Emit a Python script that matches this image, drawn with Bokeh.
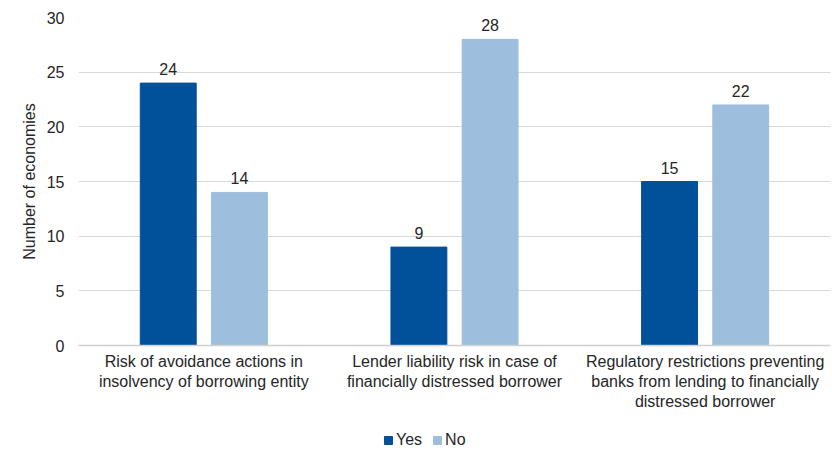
from bokeh.plotting import figure
from bokeh.layouts import column
from bokeh.core.properties import value
from bokeh.models import ColumnDataSource, Range1d, FixedTicker, Legend, LegendItem, LabelSet
from bokeh.embed import file_html
from bokeh.resources import INLINE

categories = [
    "Risk of avoidance actions in\ninsolvency of borrowing entity",
    "Lender liability risk in case of\nfinancially distressed borrower",
    "Regulatory restrictions preventing\nbanks from lending to financially\ndistressed borrower",
]
yes_values = [24, 9, 15]
no_values = [14, 28, 22]
y_ticks = [0, 5, 10, 15, 20, 25, 30]
series_names = ["Yes", "No"]

FONT = "Liberation Sans"
TEXT_COLOR = "#262626"
YES_COLOR = "#00519A"
NO_COLOR = "#9DBFDD"

centers = [i + 0.5 for i in range(len(categories))]
bar_w = 0.223
yes_x = [c - 0.142 for c in centers]
no_x = [c + 0.142 for c in centers]

yes_src = ColumnDataSource(dict(x=yes_x, top=yes_values, lbl=[str(v) for v in yes_values]))
no_src = ColumnDataSource(dict(x=no_x, top=no_values, lbl=[str(v) for v in no_values]))

p = figure(width=832, height=420, output_backend="svg", toolbar_location=None,
           x_range=Range1d(0, 3), y_range=Range1d(0, 30))
p.min_border_left = 78
p.min_border_right = 2
p.min_border_top = 17
p.min_border_bottom = 75
p.outline_line_color = None
p.background_fill_color = "white"

p.vbar(x="x", top="top", width=bar_w, source=yes_src, color=YES_COLOR)
p.vbar(x="x", top="top", width=bar_w, source=no_src, color=NO_COLOR)

for src in (yes_src, no_src):
    p.add_layout(LabelSet(x="x", y="top", text="lbl", source=src, y_offset=8,
                          text_align="center", text_baseline="bottom",
                          text_font=value(FONT), text_font_size="16px",
                          text_color=TEXT_COLOR))

# grid
p.xgrid.grid_line_color = None
p.ygrid.grid_line_color = "#D9D9D9"
p.ygrid.grid_line_width = 1.2
p.ygrid.ticker = FixedTicker(ticks=y_ticks)

# y axis
p.yaxis.ticker = FixedTicker(ticks=y_ticks)
p.yaxis.axis_line_color = None
p.yaxis.major_tick_line_color = None
p.yaxis.minor_tick_line_color = None
p.yaxis.major_label_text_font = FONT
p.yaxis.major_label_text_font_size = "16px"
p.yaxis.major_label_text_color = TEXT_COLOR
p.yaxis.major_label_standoff = 8
p.yaxis.axis_label = "Number of economies"
p.yaxis.axis_label_text_font = FONT
p.yaxis.axis_label_text_font_size = "16px"
p.yaxis.axis_label_text_font_style = "normal"
p.yaxis.axis_label_text_color = TEXT_COLOR
p.yaxis.axis_label_standoff = 6

# x axis
p.xaxis.ticker = FixedTicker(ticks=centers)
p.xaxis.major_label_overrides = {c: lab for c, lab in zip(centers, categories)}
p.xaxis.axis_line_color = "#D0D0D0"
p.xaxis.axis_line_width = 1.3
p.xaxis.major_tick_line_color = None
p.xaxis.minor_tick_line_color = None
p.xaxis.major_label_text_font = FONT
p.xaxis.major_label_text_font_size = "16px"
p.xaxis.major_label_text_color = TEXT_COLOR
p.xaxis.major_label_standoff = 1

# legend strip underneath the chart
lg = figure(width=832, height=31, output_backend="svg", toolbar_location=None,
            x_range=Range1d(0, 1), y_range=Range1d(0, 1), min_border=0)
lg.axis.visible = False
lg.grid.visible = False
lg.outline_line_color = None
sw_yes = lg.vbar(x=[-5], top=[-4], bottom=[-5], width=0.1, color=YES_COLOR)
sw_no = lg.vbar(x=[-5], top=[-4], bottom=[-5], width=0.1, color=NO_COLOR)

legend = Legend(items=[LegendItem(label=series_names[0], renderers=[sw_yes]),
                       LegendItem(label=series_names[1], renderers=[sw_no])],
                orientation="horizontal", location=(305, 2))
legend.border_line_color = None
legend.background_fill_alpha = 0
legend.label_text_font = FONT
legend.label_text_font_size = "16px"
legend.label_text_color = TEXT_COLOR
legend.glyph_width = 10
legend.glyph_height = 10
legend.spacing = 10
legend.label_standoff = 3
legend.padding = 0
legend.margin = 0
lg.add_layout(legend, "center")

open("out.html", "w").write(file_html(column(p, lg, spacing=0), INLINE))
